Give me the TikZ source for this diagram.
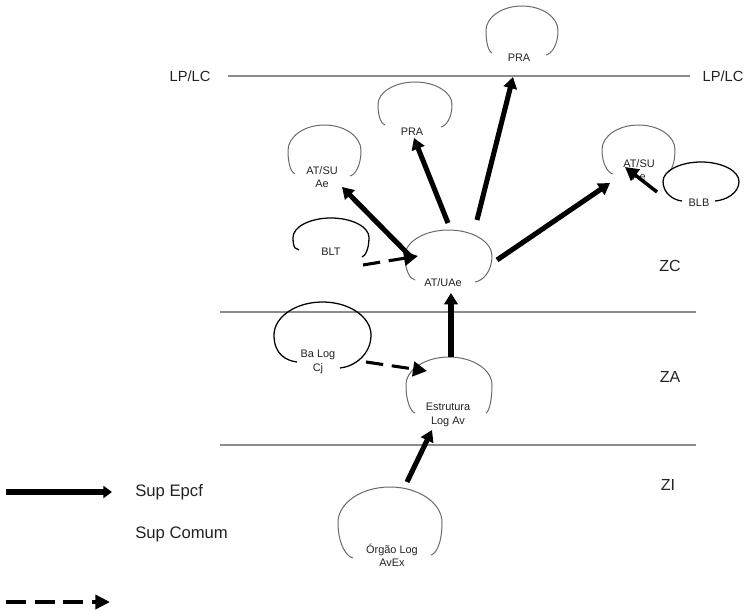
\documentclass[tikz,border=0pt]{standalone}
\usepackage{fontspec}
\setmainfont{Liberation Sans}
\usetikzlibrary{arrows.meta}

\definecolor{zonegray}{HTML}{8C8C8C}
\definecolor{loopgray}{HTML}{6A6A6A}
\definecolor{ink}{HTML}{222222}

\tikzset{
  lbl/.style={text=ink, font=\fontsize{8.2}{10}\selectfont, align=center, inner sep=0pt},
  zonelbl/.style={text=ink, font=\fontsize{12}{14}\selectfont, inner sep=0pt},
  limitlbl/.style={text=ink, font=\fontsize{11}{13}\selectfont, inner sep=0pt},
  legendlbl/.style={text=ink, font=\fontsize{12.5}{15}\selectfont, inner sep=0pt, anchor=west},
  zoneline/.style={draw=zonegray, line width=1.1pt},
  grayloop/.style={draw=loopgray, line width=0.75pt},
  blackloop/.style={draw=black, line width=0.95pt},
  supepcf/.style={draw=black, line width=3.8pt, -{Triangle[length=8.5pt,width=10pt]}},
  supthin/.style={draw=black, line width=2.6pt, -{Triangle[length=10pt,width=10.5pt]}},
  supcomum/.style={draw=black, line width=2.3pt, dash pattern=on 13pt off 6.5pt,
                   -{Triangle[length=10.5pt,width=11pt]}},
}

% open-bottomed hand-drawn loop (rounded, ends curling inwards):
% #1 style, (#2,#3) left end, #4 left x, #5 top y, #6 right x, (#7,#8) right end
\newcommand{\sketchloop}[8]{%
  \pgfmathsetmacro\lpW{#6-#4}%
  \pgfmathsetmacro\lpC{(#4+#6)/2}%
  \pgfmathsetmacro\lpB{max(#3,#8)}%
  \pgfmathsetmacro\lpH{\lpB-#5}%
  \pgfmathsetmacro\lpM{#5+0.5*\lpH}%
  \pgfmathsetmacro\lpK{0.55*(\lpM-#5)}%
  \pgfmathsetmacro\lpJ{0.55*\lpW/2}%
  \draw[#1] (#2,#3)
    .. controls ({#2-0.45*(#2-#4)},{#3-0.02*\lpH}) and ({#4},{\lpM+0.3*\lpH}) .. ({#4},{\lpM})
    .. controls ({#4},{\lpM-\lpK}) and ({\lpC-\lpJ},{#5}) .. ({\lpC},{#5})
    .. controls ({\lpC+\lpJ},{#5}) and ({#6},{\lpM-\lpK}) .. ({#6},{\lpM})
    .. controls ({#6},{\lpM+0.3*\lpH}) and ({#7+0.45*(#6-#7)},{#8-0.02*\lpH}) .. (#7,#8);
}

\begin{document}
\begin{tikzpicture}[x=0.75pt,y=-0.75pt]
\useasboundingbox (0,0) rectangle (746,610);

% zone boundaries
\draw[zoneline] (228,76) -- (690,76);
\draw[zoneline] (220,312) -- (696,312);
\draw[zoneline] (220,445) -- (696,445);

\node[limitlbl] (lpl) at (190,76) {LP/LC};
\node[limitlbl] (lpr) at (723,76) {LP/LC};
\node[zonelbl] (zc) at (670,266) {ZC};
\node[zonelbl] (za) at (670,377) {ZA};
\node[zonelbl] (zi) at (668,485) {ZI};

% loops
\sketchloop{grayloop}{492}{53}{486}{6}{558}{546}{55}
\sketchloop{grayloop}{385}{125}{378}{82}{452}{441}{127}
\sketchloop{grayloop}{295}{174}{288}{125}{361}{350}{176}
\sketchloop{grayloop}{613}{174}{602}{125}{675}{668}{172}
\sketchloop{blackloop}{682}{201}{663}{162}{739}{715}{201}
\sketchloop{blackloop}{299}{250}{293}{218}{369}{362}{257}
\sketchloop{grayloop}{415}{280}{405}{230}{492}{475}{282}
\sketchloop{blackloop}{297}{362}{274}{302}{371}{340}{368}
\sketchloop{grayloop}{415}{413}{406}{357}{492}{486}{413}
\sketchloop{grayloop}{353}{558}{338}{487}{442}{431}{555}

% labels
\node[lbl] (pratop) at (519,58) {PRA};
\node[lbl] (pramid) at (412,132) {PRA};
\node[lbl] (atsul) at (322,177) {AT/SU\\Ae};
\node[lbl] (atsur) at (639,170) {AT/SU\\Ae};
\node[lbl] (blb) at (699,203) {BLB};
\node[lbl] (blt) at (331,252) {BLT};
\node[lbl] (atuae) at (443,283) {AT/UAe};
\node[lbl] (balog) at (318,362) {Ba Log\\Cj};
\node[lbl] (estr) at (448,415) {Estrutura\\Log Av};
\node[lbl] (orgao) at (392,555) {Órgão Log\\AvEx};

% connector end points
\coordinate (orgaoTop) at (407,482);
\coordinate (estrBot) at (432,430);
\coordinate (estrTop) at (451,357);
\coordinate (atuaeBot) at (451,293);
\coordinate (atuaeL) at (412,258);
\coordinate (atuaeT1) at (448,223);
\coordinate (atuaeT2) at (477,220);
\coordinate (atuaeR) at (497,260);
\coordinate (atsulIn) at (342,187);
\coordinate (pramidIn) at (414,138);
\coordinate (pratopIn) at (513,77);
\coordinate (atsurIn) at (610,183);
\coordinate (blbOut) at (657,192);
\coordinate (atsurIn2) at (625,167);
\coordinate (bltOut) at (363,265);
\coordinate (atuaeIn) at (418,256);
\coordinate (balogOut) at (366,362);
\coordinate (estrIn) at (427,371);

% connectors
\draw[supepcf] (orgaoTop) -- (estrBot);
\draw[supepcf] (estrTop) -- (atuaeBot);
\draw[supepcf] (atuaeL) -- (atsulIn);
\draw[supepcf] (atuaeT1) -- (pramidIn);
\draw[supepcf] (atuaeT2) -- (pratopIn);
\draw[supepcf] (atuaeR) -- (atsurIn);
\draw[supthin] (blbOut) -- (atsurIn2);
\draw[supcomum] (bltOut) -- (atuaeIn);
\draw[supcomum] (balogOut) -- (estrIn);

% legend
\coordinate (legA1) at (6,492);
\coordinate (legA2) at (112,492);
\coordinate (legB1) at (6,602);
\coordinate (legB2) at (110,602);
\draw[draw=black, line width=4.6pt, -{Triangle[length=6.5pt,width=9pt]}] (legA1) -- (legA2);
\draw[draw=black, line width=2.6pt, dash pattern=on 15pt off 6.5pt,
      -{Triangle[length=11pt,width=10.5pt]}] (legB1) -- (legB2);
\node[legendlbl] (legepcf) at (135,492) {Sup Epcf};
\node[legendlbl] (legcomum) at (135,534) {Sup Comum};
\end{tikzpicture}
\end{document}
